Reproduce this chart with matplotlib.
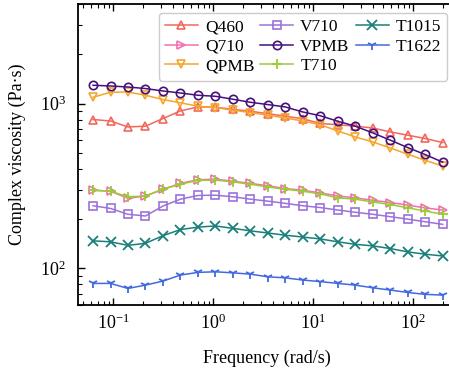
import matplotlib
matplotlib.use("Agg")
import matplotlib.pyplot as plt

# Angular frequency (rad/s), 21 log-spaced points
freq = [0.0628, 0.0939, 0.140, 0.210, 0.314, 0.469, 0.702, 1.05, 1.57, 2.35,
        3.51, 5.25, 7.85, 11.7, 17.6, 26.3, 39.3, 58.8, 87.9, 131, 197]

# Complex viscosity (Pa.s)
q460 = [800, 784, 721, 729, 811, 902, 954, 950, 923, 898, 868, 838, 809, 757,
        744, 729, 711, 673, 643, 614, 580]
q710 = [298, 294, 266, 275, 302, 328, 345, 348, 338, 328, 317, 305, 298, 287,
        275, 268, 259, 251, 242, 233, 226]
qpmb = [1092, 1171, 1175, 1123, 1057, 1011, 963, 946, 911, 882, 849, 818, 784,
        744, 682, 627, 585, 538, 493, 453, 417]
v710 = [240, 231, 213, 208, 239, 263, 277, 278, 272, 263, 256, 248, 240, 234,
        226, 219, 213, 206, 199, 192, 185]
vpmb = [1291, 1278, 1260, 1233, 1192, 1159, 1123, 1107, 1062, 1018, 986, 954,
        889, 844, 781, 729, 664, 600, 541, 491, 441]
t710 = [298, 294, 272, 275, 302, 324, 342, 343, 335, 324, 312, 302, 294, 283,
        268, 263, 253, 244, 233, 223, 213]
t1015 = [147, 145, 138, 142, 158, 172, 178, 181, 175, 169, 164, 159, 155, 151,
         145, 140, 137, 132, 126, 122, 119]
t1622 = [81.1, 81.1, 75.6, 79.2, 83.8, 91.1, 94.6, 95.4, 94.0, 92.3, 88.9, 87.7,
         85.0, 83.2, 81.1, 79.2, 76.3, 73.9, 71.5, 69.6, 68.9]

labels = ["Q460", "Q710", "QPMB", "V710", "VPMB", "T710", "T1015", "T1622"]
series = [q460, q710, qpmb, v710, vpmb, t710, t1015, t1622]
colors = ["#F2675C", "#F26FB0", "#F5A52A", "#9B72DB", "#45107A", "#9ACD32",
          "#1A7F78", "#4169E1"]
markers = ["^", ">", "v", "s", "o", "+", "x", "1"]

plt.rcParams["font.family"] = "Liberation Serif"
plt.rcParams["mathtext.fontset"] = "stix"
plt.rcParams["font.size"] = 13

fig = plt.figure(figsize=(4.49, 3.70), dpi=100)
# the right spine of the original sits just past the image edge
ax = fig.add_axes([0.1744, 0.1757, 0.841, 0.8127])

for y, lab, c, m in zip(series, labels, colors, markers):
    if m in ("+", "x", "1"):
        ax.plot(freq, y, color=c, marker=m, markersize=7, markeredgewidth=1.3,
                linewidth=1.1, label=lab)
    else:
        ax.plot(freq, y, color=c, marker=m, markersize=6, markerfacecolor="none",
                markeredgewidth=1.2, linewidth=1.1, label=lab)

ax.set_xscale("log")
ax.set_yscale("log")
ax.set_xlim(0.0447, 267)
ax.set_ylim(60, 4000)
ax.set_xlabel("Frequency (rad/s)", labelpad=12)
ax.set_ylabel("Complex viscosity (Pa·s)", labelpad=10)

ax.tick_params(which="both", direction="in", top=True, right=True)
ax.tick_params(which="major", length=5, width=1)
ax.tick_params(which="minor", length=3, width=0.8)
ax.tick_params(axis="x", which="major", pad=6)
ax.tick_params(axis="y", which="major", pad=9)
for s in ax.spines.values():
    s.set_linewidth(1.3)

ax.legend(ncol=3, loc="upper right", fontsize=12.5, columnspacing=0.35,
          handlelength=1.9, handletextpad=0.4, labelspacing=0.2,
          borderaxespad=0.5, borderpad=0.35, edgecolor="#cccccc", framealpha=1)

fig.savefig("out.png", dpi=100)
